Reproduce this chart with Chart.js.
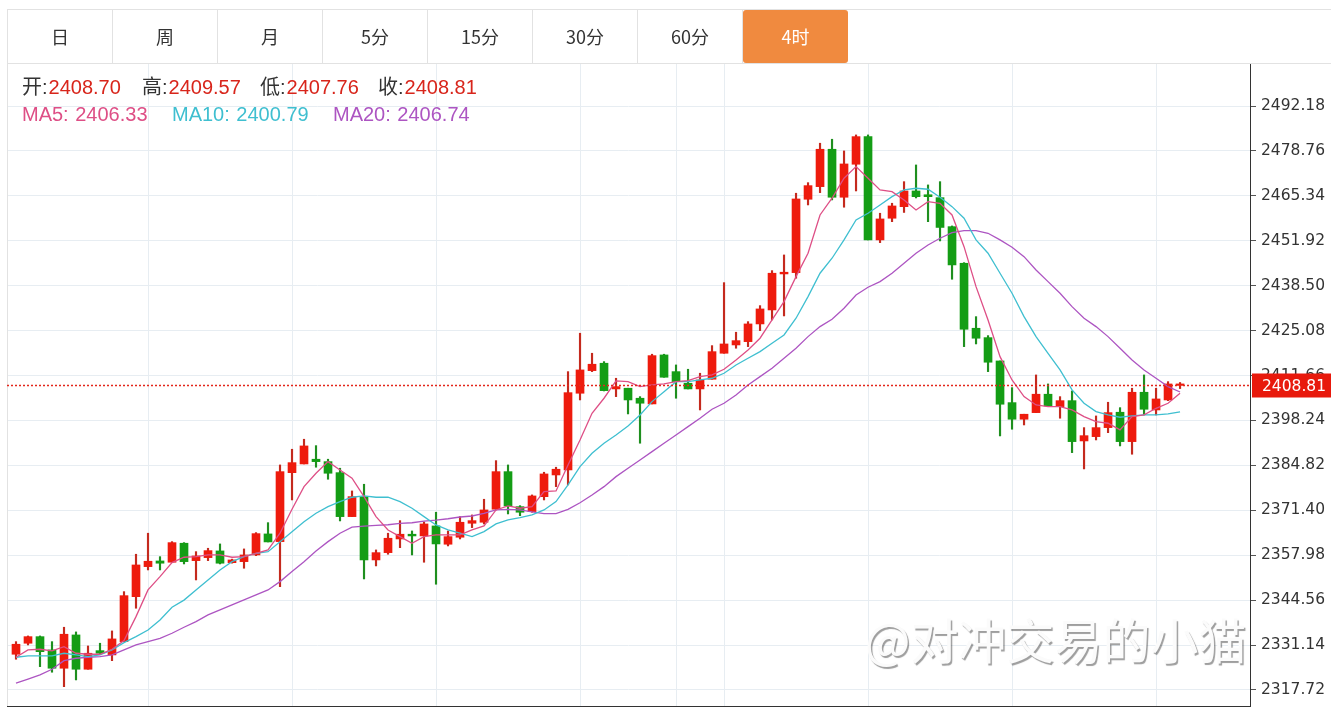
<!DOCTYPE html>
<html>
<head>
<meta charset="utf-8">
<script src="https://cdn.jsdelivr.net/npm/chart.js@4/dist/chart.umd.min.js"></script>
<style>
body { margin: 0; background: #fff; width: 1331px; height: 707px; overflow: hidden; position: relative; font-family: "Noto Sans CJK SC", sans-serif; }
#chart { position: absolute; left: 0; top: 0; }
#tabs { position: absolute; left: 7px; top: 9px; width: 1324px; height: 53px; border-top: 1px solid #e2e2e2; border-bottom: 1px solid #e2e2e2; border-left: 1px solid #e2e2e2; }
.tab { position: absolute; top: 0; width: 105px; height: 53px; line-height: 53px; text-align: center; font-size: 18px; color: #333; border-right: 1px solid #e2e2e2; box-sizing: border-box; }
.tab.on { background: #f08a3f; color: #fff; border: none; border-radius: 3px; }
.lg { position: absolute; font-family: "Liberation Sans", "Noto Sans CJK SC", sans-serif; font-size: 20px; line-height: 24px; white-space: nowrap; color: #333; }
</style>
</head>
<body>
<canvas id="chart" width="1331" height="707"></canvas>
<div id="tabs"></div>
<div id="legend"></div>
<script>
const tabNames = ['日', '周', '月', '5分', '15分', '30分', '60分', '4时']
const activeTab = 7

const opens = [2328.38, 2331.67, 2333.64, 2329.67, 2324.20, 2334.15, 2323.90, 2329.46, 2328.18, 2332.15,
    2345.59, 2354.56, 2356.26, 2355.87, 2361.55, 2356.35, 2357.25, 2359.25, 2355.75, 2356.05,
    2358.05, 2364.33, 2362.03, 2382.64, 2385.24, 2386.65, 2385.93, 2382.64, 2369.50, 2375.47,
    2356.56, 2358.74, 2362.83, 2364.24, 2363.73, 2366.72, 2361.25, 2363.34, 2367.52, 2367.82,
    2371.71, 2382.94, 2372.48, 2370.99, 2375.47, 2381.95, 2383.45, 2406.36, 2413.12, 2415.33,
    2407.65, 2407.86, 2404.87, 2403.17, 2417.81, 2412.82, 2409.35, 2407.65, 2410.55, 2418.31,
    2420.79, 2421.78, 2427.07, 2431.25, 2442.01, 2442.40, 2464.32, 2468.09, 2479.26, 2464.92,
    2474.78, 2483.03, 2452.17, 2458.65, 2462.11, 2466.80, 2465.67, 2464.80, 2456.14, 2445.20,
    2425.78, 2422.98, 2416.01, 2403.56, 2398.60, 2400.57, 2406.07, 2402.36, 2404.15, 2392.11,
    2393.40, 2396.09, 2400.69, 2391.91, 2406.66, 2401.37, 2404.36, 2408.70]
const highs = [2332.15, 2333.85, 2333.85, 2332.15, 2336.45, 2335.05, 2330.86, 2331.67, 2335.35, 2347.09,
    2358.26, 2364.54, 2357.54, 2362.03, 2361.73, 2359.04, 2360.05, 2361.34, 2356.80, 2359.85,
    2364.72, 2367.70, 2384.94, 2389.63, 2392.62, 2390.71, 2386.65, 2383.96, 2377.17, 2379.17,
    2359.55, 2364.54, 2368.30, 2365.22, 2367.91, 2370.81, 2365.22, 2369.50, 2370.00, 2374.69,
    2386.23, 2384.94, 2372.78, 2375.98, 2382.76, 2384.26, 2412.82, 2424.29, 2418.31, 2415.81,
    2410.84, 2407.86, 2405.35, 2418.02, 2418.02, 2414.82, 2413.53, 2412.34, 2420.59, 2439.41,
    2424.59, 2427.76, 2432.54, 2443.00, 2447.68, 2466.12, 2469.28, 2481.06, 2482.25, 2478.76,
    2483.54, 2483.54, 2460.14, 2463.13, 2469.58, 2474.57, 2468.60, 2469.58, 2456.35, 2445.38,
    2429.25, 2423.58, 2416.01, 2408.04, 2400.09, 2411.83, 2409.14, 2405.35, 2407.05, 2396.09,
    2399.58, 2403.67, 2402.06, 2407.86, 2411.83, 2407.86, 2409.83, 2409.57]
const lows = [2326.89, 2331.16, 2324.68, 2323.01, 2318.70, 2320.71, 2323.90, 2328.38, 2326.47, 2332.15,
    2342.13, 2353.57, 2353.57, 2355.87, 2355.36, 2350.58, 2356.35, 2355.36, 2355.60, 2354.08,
    2357.84, 2361.94, 2348.58, 2374.48, 2385.24, 2384.26, 2380.67, 2368.21, 2369.50, 2350.88,
    2354.77, 2358.26, 2360.23, 2358.05, 2355.87, 2349.30, 2360.74, 2362.83, 2366.21, 2367.31,
    2371.50, 2370.30, 2369.79, 2370.81, 2374.48, 2378.46, 2378.97, 2404.36, 2412.82, 2407.05,
    2405.35, 2400.18, 2391.43, 2403.17, 2411.14, 2404.87, 2407.65, 2401.37, 2410.55, 2418.31,
    2419.81, 2420.29, 2425.07, 2428.26, 2429.46, 2440.72, 2462.62, 2466.30, 2464.12, 2461.94,
    2466.80, 2452.17, 2451.36, 2457.63, 2460.38, 2464.71, 2457.63, 2451.87, 2440.42, 2420.29,
    2421.09, 2412.82, 2393.61, 2395.61, 2396.89, 2400.57, 2402.36, 2398.90, 2388.62, 2383.75,
    2392.41, 2394.59, 2390.62, 2388.14, 2399.88, 2399.88, 2404.15, 2407.76]
const closes = [2331.37, 2333.64, 2329.16, 2324.20, 2334.36, 2323.90, 2328.68, 2328.68, 2332.96, 2345.89,
    2355.06, 2356.17, 2355.58, 2361.73, 2356.05, 2357.75, 2359.34, 2355.58, 2356.56, 2358.05,
    2364.42, 2361.94, 2382.94, 2385.63, 2390.62, 2385.93, 2382.46, 2369.50, 2375.47, 2356.56,
    2358.74, 2363.04, 2364.24, 2363.73, 2367.31, 2361.34, 2363.52, 2367.82, 2368.30, 2371.50,
    2382.94, 2372.69, 2370.81, 2375.68, 2382.25, 2383.66, 2406.54, 2413.33, 2415.03, 2407.14,
    2408.34, 2404.36, 2403.38, 2417.60, 2411.14, 2409.83, 2407.65, 2410.34, 2418.79, 2421.09,
    2422.08, 2427.07, 2431.55, 2442.22, 2442.52, 2464.41, 2468.39, 2479.26, 2464.92, 2474.87,
    2483.03, 2452.17, 2458.44, 2462.32, 2466.80, 2465.10, 2465.10, 2455.90, 2444.70, 2425.48,
    2422.80, 2415.63, 2403.08, 2398.60, 2400.09, 2406.07, 2402.57, 2404.15, 2391.91, 2393.69,
    2396.09, 2400.57, 2391.91, 2406.66, 2401.58, 2404.66, 2409.14, 2408.81]

const ma5 = [2327.48, 2329.67, 2329.88, 2329.37, 2330.66, 2328.68, 2328.38, 2328.38, 2329.88, 2332.45,
    2339.62, 2347.60, 2351.57, 2355.75, 2357.36, 2357.54, 2358.05, 2358.05, 2357.36, 2357.54,
    2358.55, 2359.55, 2364.54, 2371.71, 2378.46, 2382.46, 2385.93, 2383.45, 2380.97, 2375.47,
    2369.50, 2365.52, 2363.52, 2361.55, 2363.52, 2364.03, 2364.03, 2364.03, 2365.52, 2366.72,
    2371.50, 2372.69, 2372.00, 2372.48, 2376.96, 2377.17, 2384.94, 2392.41, 2400.39, 2404.87,
    2410.04, 2409.83, 2408.34, 2408.84, 2409.14, 2409.83, 2410.13, 2411.32, 2411.83, 2413.53,
    2416.31, 2419.30, 2422.80, 2428.26, 2433.73, 2441.20, 2448.19, 2459.63, 2464.62, 2470.60,
    2474.07, 2470.60, 2467.10, 2466.60, 2464.12, 2461.13, 2463.61, 2463.13, 2459.63, 2450.16,
    2438.21, 2428.26, 2417.30, 2410.34, 2405.35, 2402.87, 2402.36, 2402.36, 2401.37, 2399.37,
    2397.88, 2397.40, 2395.40, 2399.37, 2399.88, 2401.87, 2403.38, 2406.33]
const ma10 = [2327.48, 2327.87, 2327.87, 2327.87, 2328.68, 2328.18, 2327.67, 2328.18, 2329.67, 2331.85,
    2333.64, 2335.64, 2338.63, 2342.43, 2344.56, 2347.60, 2350.58, 2353.57, 2356.05, 2357.54,
    2358.55, 2359.04, 2362.00, 2365.00, 2368.00, 2370.50, 2372.50, 2373.98, 2375.29, 2375.68,
    2375.29, 2375.29, 2373.98, 2372.00, 2369.50, 2367.02, 2365.52, 2364.54, 2363.52, 2365.02,
    2367.31, 2368.50, 2369.19, 2370.00, 2371.50, 2373.98, 2378.97, 2384.44, 2388.44, 2391.43,
    2393.91, 2396.60, 2399.88, 2403.86, 2406.84, 2409.83, 2409.83, 2410.34, 2410.84, 2412.34,
    2414.82, 2416.82, 2418.79, 2421.30, 2423.78, 2428.77, 2435.23, 2442.22, 2446.70, 2452.17,
    2458.14, 2460.14, 2462.62, 2465.10, 2467.10, 2467.61, 2467.31, 2464.92, 2462.11, 2458.65,
    2452.17, 2448.19, 2442.22, 2436.24, 2429.25, 2423.28, 2418.31, 2413.33, 2407.35, 2403.38,
    2400.87, 2399.88, 2399.19, 2399.58, 2399.88, 2399.88, 2400.18, 2400.79]
const ma20 = [2319.72, 2320.92, 2322.20, 2323.90, 2326.47, 2327.19, 2327.48, 2327.67, 2328.18, 2329.67,
    2331.16, 2332.15, 2333.15, 2334.66, 2336.45, 2338.13, 2340.12, 2341.62, 2343.12, 2344.61,
    2346.11, 2347.60, 2350.08, 2353.07, 2356.05, 2359.25, 2362.03, 2364.54, 2366.36, 2366.66,
    2366.87, 2367.07, 2367.47, 2367.67, 2368.17, 2368.47, 2368.87, 2369.39, 2369.69, 2370.49,
    2371.49, 2371.65, 2371.49, 2370.89, 2370.40, 2370.40, 2371.65, 2373.66, 2375.98, 2378.46,
    2381.45, 2383.96, 2386.43, 2388.92, 2391.43, 2393.91, 2396.39, 2398.90, 2401.58, 2403.38,
    2405.86, 2408.84, 2411.32, 2413.83, 2416.82, 2419.81, 2423.28, 2426.27, 2428.47, 2431.76,
    2435.73, 2438.03, 2439.71, 2442.22, 2445.20, 2448.19, 2450.67, 2452.67, 2454.34, 2454.94,
    2454.94, 2454.16, 2452.17, 2449.98, 2447.18, 2443.20, 2439.71, 2436.24, 2432.24, 2428.77,
    2426.27, 2423.28, 2419.81, 2416.31, 2413.33, 2410.84, 2408.34, 2406.74]

const yTicks = [2317.72, 2331.14, 2344.56, 2357.98, 2371.40, 2384.82, 2398.24, 2411.66,
    2425.08, 2438.50, 2451.92, 2465.34, 2478.76, 2492.18]
// candles that carry a vertical grid line
const gridCandles = [11, 23, 35, 47, 55, 59, 71, 83, 95]
const watermark = '@对冲交易的小猫'

const upColor = '#ee1b0d'
const downColor = '#149d15'
const last = closes.length - 1

function buildTabs() {
    let html = ''
    for (let i = 0; i < tabNames.length; i++) {
        let cls = i == activeTab ? 'tab on' : 'tab'
        html += '<div class="' + cls + '" style="left:' + (105 * i) + 'px">' + tabNames[i] + '</div>'
    }
    document.getElementById('tabs').innerHTML = html
}

function buildLegend() {
    const red = '#d8251b'
    const items = [
        [22, 75, '开:', '#333', opens[last].toFixed(2), red],
        [142, 75, '高:', '#333', highs[last].toFixed(2), red],
        [260, 75, '低:', '#333', lows[last].toFixed(2), red],
        [378, 75, '收:', '#333', closes[last].toFixed(2), red],
        [22, 102, 'MA5: ', '#de4f86', ma5[last].toFixed(2), '#de4f86'],
        [172, 102, 'MA10: ', '#3fbfd0', ma10[last].toFixed(2), '#3fbfd0'],
        [333, 102, 'MA20: ', '#ad55c2', ma20[last].toFixed(2), '#ad55c2'],
    ]
    let html = ''
    for (let it of items) {
        html += '<div class="lg" style="left:' + it[0] + 'px;top:' + it[1] + 'px">'
            + '<span style="color:' + it[3] + '">' + it[2] + '</span>'
            + '<span style="color:' + it[5] + ';margin-left:1px">' + it[4] + '</span></div>'
    }
    document.getElementById('legend').innerHTML = html
}

const extras = {
    id: 'extras',
    beforeDatasetsDraw(chart) {
        const ctx = chart.ctx
        const a = chart.chartArea
        ctx.save()
        ctx.beginPath()
        ctx.rect(a.left, a.top, a.right - a.left, a.bottom - a.top)
        ctx.clip()
        ctx.font = '48px "Noto Sans CJK SC"'
        ctx.textBaseline = 'middle'
        ctx.shadowColor = 'rgba(0,0,0,0.38)'
        ctx.shadowOffsetX = 1.5
        ctx.shadowOffsetY = 1.5
        ctx.shadowBlur = 0.8
        ctx.fillStyle = '#fbfbfb'
        ctx.fillText(watermark, 865, 641)
        ctx.restore()
    },
    afterDraw(chart) {
        const ctx = chart.ctx
        const a = chart.chartArea
        const y = Math.round(chart.scales.y.getPixelForValue(closes[last])) + 0.5
        ctx.save()
        // left frame line
        ctx.strokeStyle = '#e2e2e2'
        ctx.lineWidth = 1
        ctx.beginPath()
        ctx.moveTo(a.left + 0.5, a.top)
        ctx.lineTo(a.left + 0.5, a.bottom)
        ctx.stroke()
        // last price line + label
        ctx.strokeStyle = '#e3261b'
        ctx.lineWidth = 1.4
        ctx.setLineDash([2, 2])
        ctx.beginPath()
        ctx.moveTo(a.left, y)
        ctx.lineTo(a.right, y)
        ctx.stroke()
        ctx.setLineDash([])
        ctx.fillStyle = '#e8190c'
        ctx.fillRect(a.right + 2, y - 12, chart.width - a.right - 2, 24)
        ctx.fillStyle = '#fff'
        ctx.font = '15.5px "DejaVu Sans"'
        ctx.textBaseline = 'middle'
        ctx.fillText(closes[last].toFixed(2), a.right + 12, y + 1)
        ctx.restore()
    }
}

function createChart() {
    const idx = closes.map((c, i) => i)
    const colors = idx.map(i => closes[i] >= opens[i] ? upColor : downColor)
    const wickColors = idx.map(i => closes[i] >= opens[i] ? '#c42a1e' : '#1f8f1f')

    const maLine = (label, values, color) => ({
        type: 'line',
        label: label,
        data: idx.map(i => ({x: i, y: values[i]})),
        borderColor: color,
        borderWidth: 1.3,
        pointRadius: 0,
        tension: 0,
        order: 0,
    })

    const data = {
        datasets: [
            maLine('MA5', ma5, '#de4f86'),
            maLine('MA10', ma10, '#3fbfd0'),
            maLine('MA20', ma20, '#ad55c2'),
            {
                type: 'bar',
                label: 'body',
                data: idx.map(i => ({x: i, y: [opens[i], closes[i]]})),
                backgroundColor: colors,
                barThickness: 8,
                minBarLength: 1.5,
                grouped: false,
                borderSkipped: false,
                order: 1,
            },
            {
                type: 'bar',
                label: 'wick',
                data: idx.map(i => ({x: i, y: [lows[i], highs[i]]})),
                backgroundColor: wickColors,
                barThickness: 1.5,
                grouped: false,
                borderSkipped: false,
                order: 2,
            },
        ]
    }

    const config = {
        data: data,
        options: {
            responsive: false,
            animation: false,
            devicePixelRatio: 1,
            layout: {padding: {left: 7, top: 63, right: 0, bottom: 1}},
            plugins: {
                legend: {display: false},
                tooltip: {enabled: false},
            },
            scales: {
                x: {
                    type: 'linear',
                    min: -0.75,
                    max: 102.83,
                    offset: false,
                    grid: {color: '#e7edf2', drawTicks: false, offset: false},
                    border: {display: true, color: '#333'},
                    ticks: {display: false},
                    afterBuildTicks: function(scale) {
                        scale.ticks = gridCandles.map(v => ({value: v}))
                    },
                    afterFit: function(scale) {
                        scale.height = 0
                        scale.paddingLeft = 0
                        scale.paddingRight = 0
                    },
                },
                y: {
                    type: 'linear',
                    position: 'right',
                    min: 2312.92,
                    max: 2505.03,
                    grid: {color: '#e7edf2', tickColor: '#555', tickLength: 6},
                    border: {display: true, color: '#333'},
                    ticks: {
                        color: '#333',
                        padding: 5,
                        font: {family: 'DejaVu Sans', size: 15.5},
                        callback: v => v.toFixed(2),
                    },
                    afterBuildTicks: function(scale) {
                        scale.ticks = yTicks.map(v => ({value: v}))
                    },
                    afterFit: function(scale) {
                        scale.width = 81
                        scale.paddingTop = 0
                        scale.paddingBottom = 0
                    },
                },
            },
        },
        plugins: [extras],
    }

    new Chart(document.getElementById('chart'), config)
}

buildTabs()
buildLegend()
createChart()
</script>
</body>
</html>
